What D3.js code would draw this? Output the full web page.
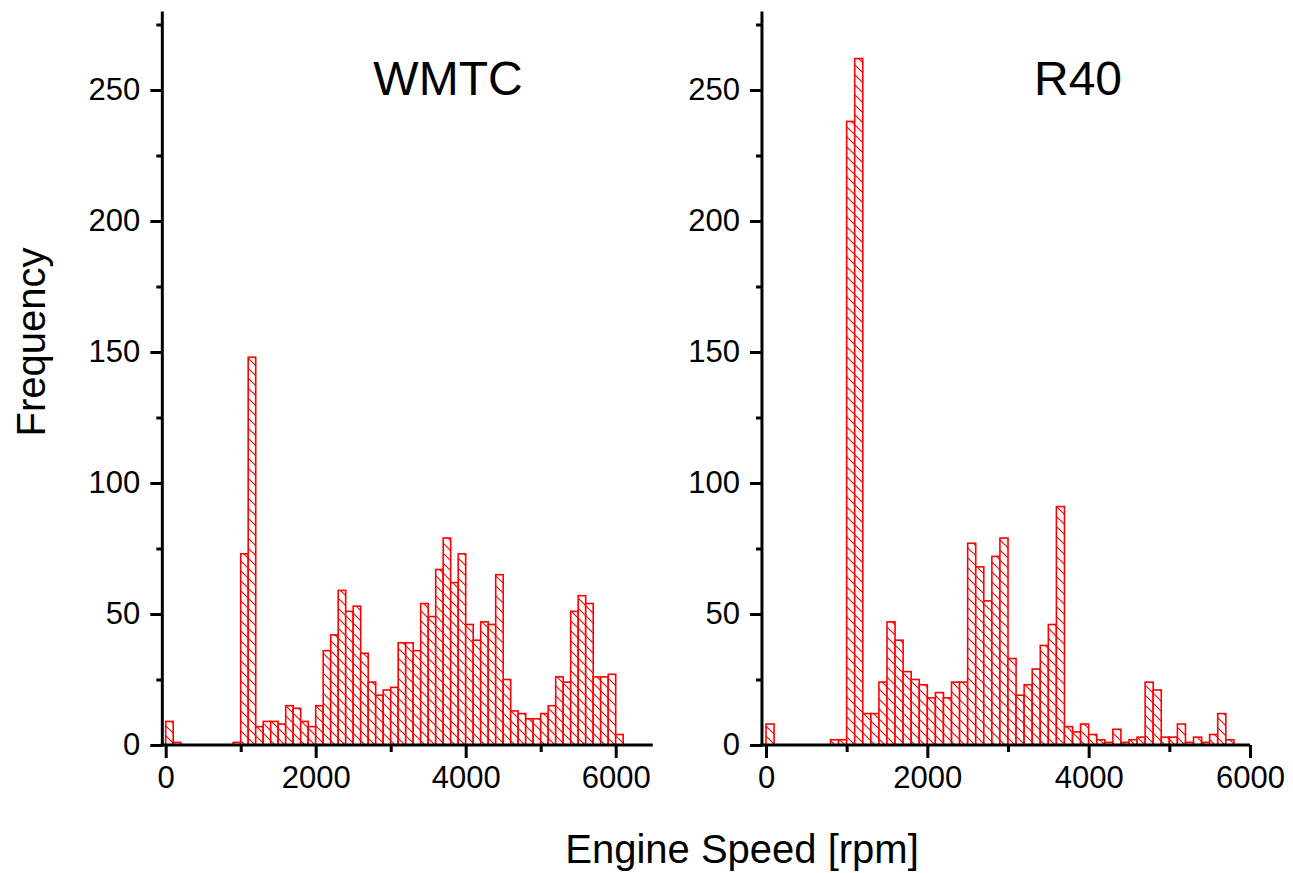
<!DOCTYPE html>
<html>
<head>
<meta charset="utf-8">
<script src="https://cdn.jsdelivr.net/npm/d3@7"></script>
<style>
  html, body { margin: 0; padding: 0; background: #fff; }
  svg { display: block; }
  text { font-family: "Liberation Sans", Arial, sans-serif; fill: #000; }
</style>
</head>
<body>
<svg id="chart" width="1293" height="873"></svg>
<script>
// ---- Data (bin start in rpm, bin width 100 rpm) ----
const wmtcBinStart = [0,100,900,1000,1100,1200,1300,1400,1500,1600,1700,1800,1900,2000,2100,2200,2300,2400,2500,2600,2700,2800,2900,3000,3100,3200,3300,3400,3500,3600,3700,3800,3900,4000,4100,4200,4300,4400,4500,4600,4700,4800,4900,5000,5100,5200,5300,5400,5500,5600,5700,5800,5900,6000];
const wmtcCount    = [9,1,1,73,148,7,9,9,8,15,14,9,7,15,36,42,59,51,53,35,24,19,21,22,39,39,36,54,49,67,79,62,73,46,40,47,46,65,25,13,12,10,10,12,15,26,24,51,57,54,26,26,27,4];

const r40BinStart = [0,800,900,1000,1100,1200,1300,1400,1500,1600,1700,1800,1900,2000,2100,2200,2300,2400,2500,2600,2700,2800,2900,3000,3100,3200,3300,3400,3500,3600,3700,3800,3900,4000,4100,4200,4300,4400,4500,4600,4700,4800,4900,5000,5100,5200,5300,5400,5500,5600,5700];
const r40Count    = [8,2,2,238,262,12,12,24,47,40,28,25,23,18,20,18,24,24,77,68,55,72,79,33,19,23,29,38,46,91,7,5,8,4,2,1,6,1,2,3,24,21,3,3,8,1,3,1,4,12,2];

const binWidth = 100;
const xTicks = [0, 2000, 4000, 6000];
const xMinorTicks = [1000, 3000, 5000];
const yTicks = [0, 50, 100, 150, 200, 250];
const yMinorTicks = [25, 75, 125, 175, 225, 275];
const panelTitles = ["WMTC", "R40"];
const xAxisTitle = "Engine Speed [rpm]";
const yAxisTitle = "Frequency";

// ---- Layout ----
const svg = d3.select("#chart");
const red = "#ff0000";

const defs = svg.append("defs");
const pat = defs.append("pattern")
  .attr("id", "hatch")
  .attr("patternUnits", "userSpaceOnUse")
  .attr("width", 10).attr("height", 10);
pat.append("rect").attr("width", 10).attr("height", 10).attr("fill", "#fff");
pat.append("path").attr("d", "M-1,-1 L11,11 M-6,4 L6,16 M4,-6 L16,6")
  .attr("stroke", red).attr("stroke-width", 1.1);

const y = d3.scaleLinear().domain([0, 250]).range([745, 90]);

const panels = [
  { title: panelTitles[0], starts: wmtcBinStart, counts: wmtcCount,
    x: d3.scaleLinear().domain([0, 6000]).range([165.7, 615.7]),
    xMin: -45, xMax: 6495, axisStart: -45, titleX: 448 },
  { title: panelTitles[1], starts: r40BinStart, counts: r40Count,
    x: d3.scaleLinear().domain([0, 6000]).range([766, 1250]),
    xMin: -50, xMax: 6000, axisStart: -50, titleX: 1078 }
];

panels.forEach(p => {
  const g = svg.append("g");
  const x = p.x;

  // bars
  const data = p.starts.map((s, i) => ({ s, c: p.counts[i] }));
  g.selectAll("rect.bar").data(data).enter().append("rect")
    .attr("class", "bar")
    .attr("x", d => x(d.s))
    .attr("width", d => x(d.s + binWidth) - x(d.s))
    .attr("y", d => y(d.c))
    .attr("height", d => y(0) - y(d.c))
    .attr("fill", "url(#hatch)")
    .attr("stroke", red)
    .attr("stroke-width", 1.6);

  // x axis
  const xAxisG = g.append("g").attr("transform", `translate(0,${y(0)})`);
  xAxisG.append("line")
    .attr("x1", x(p.axisStart) - 1.5).attr("x2", x(p.xMax))
    .attr("stroke", "#000").attr("stroke-width", 3);
  const xAxis = d3.axisBottom(x).tickValues(xTicks).tickSize(13).tickPadding(8).tickFormat(d3.format("d"));
  const xa = xAxisG.append("g").call(xAxis);
  xa.select(".domain").remove();
  xa.selectAll(".tick line").attr("stroke", "#000").attr("stroke-width", 3);
  xa.selectAll(".tick text").style("font-size", "31px").attr("fill", "#000")
    .style("font-family", "'Liberation Sans', Arial, sans-serif");
  const xm = xAxisG.append("g").call(d3.axisBottom(x).tickValues(xMinorTicks).tickSize(7).tickFormat(""));
  xm.select(".domain").remove();
  xm.selectAll(".tick line").attr("stroke", "#000").attr("stroke-width", 3);

  // y axis
  const yAxisG = g.append("g").attr("transform", `translate(${x(p.xMin)},0)`);
  yAxisG.append("line")
    .attr("y1", y(0) + 1.5).attr("y2", y(280))
    .attr("stroke", "#000").attr("stroke-width", 3);
  const ya = yAxisG.append("g").call(d3.axisLeft(y).tickValues(yTicks).tickSize(12).tickPadding(10));
  ya.select(".domain").remove();
  ya.selectAll(".tick line").attr("stroke", "#000").attr("stroke-width", 3);
  ya.selectAll(".tick text").style("font-size", "31px").attr("fill", "#000")
    .style("font-family", "'Liberation Sans', Arial, sans-serif");
  const ym = yAxisG.append("g").call(d3.axisLeft(y).tickValues(yMinorTicks).tickSize(6).tickFormat(""));
  ym.select(".domain").remove();
  ym.selectAll(".tick line").attr("stroke", "#000").attr("stroke-width", 3);

  // panel title
  g.append("text").attr("x", p.titleX).attr("y", 95)
    .attr("text-anchor", "middle").style("font-size", "48px").text(p.title);
});

// axis titles
svg.append("text").attr("x", 742).attr("y", 863).attr("text-anchor", "middle")
  .style("font-size", "40px").text(xAxisTitle);
svg.append("text").attr("transform", "translate(45,342) rotate(-90)")
  .attr("text-anchor", "middle").style("font-size", "40px").text(yAxisTitle);
</script>
</body>
</html>
